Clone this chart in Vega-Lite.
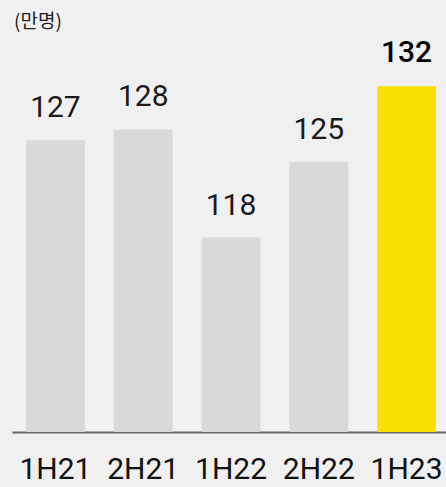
{
  "$schema": "https://vega.github.io/schema/vega-lite/v6.json",
  "width": 438,
  "height": 389,
  "autosize": {"type": "none"},
  "padding": {"left": 12, "top": 43, "right": 0, "bottom": 55},
  "background": "#f0f0f0",
  "config": {"view": {"stroke": null}},
  "title": {
    "text": "(만명)",
    "anchor": "start",
    "frame": "group",
    "font": "Noto Sans CJK KR",
    "fontSize": 19,
    "fontWeight": "normal",
    "color": "#222222",
    "offset": 6,
    "dx": 2
  },
  "data": {
    "values": [
      {"period": "1H21", "value": 127},
      {"period": "2H21", "value": 128},
      {"period": "1H22", "value": 118},
      {"period": "2H22", "value": 125},
      {"period": "1H23", "value": 132}
    ]
  },
  "encoding": {
    "x": {
      "field": "period",
      "type": "nominal",
      "sort": null,
      "scale": {"paddingInner": 0.33, "paddingOuter": 0.16},
      "axis": {
        "title": null,
        "ticks": false,
        "tickSize": 0,
        "labelAngle": 0,
        "labelFont": "Roboto",
        "labelFontSize": 30,
        "labelColor": "#111111",
        "labelBaseline": "alphabetic",
        "labelPadding": 46,
        "domainColor": "#666666",
        "domainWidth": 2,
        "grid": false
      }
    },
    "y": {
      "field": "value",
      "type": "quantitative",
      "scale": {"domain": [100, 136], "zero": false, "nice": false},
      "axis": null
    }
  },
  "layer": [
    {
      "mark": {"type": "bar"},
      "encoding": {
        "y2": {"datum": 100},
        "color": {
          "condition": {"test": "datum.period === '1H23'", "value": "#fae100"},
          "value": "#d9d9d9"
        }
      }
    },
    {
      "transform": [{"filter": "datum.period !== '1H23'"}],
      "mark": {"type": "text", "baseline": "alphabetic", "dy": -23, "font": "Roboto", "fontSize": 30, "color": "#1a1a1a"},
      "encoding": {"text": {"field": "value", "type": "quantitative"}}
    },
    {
      "transform": [{"filter": "datum.period === '1H23'"}],
      "mark": {"type": "text", "baseline": "alphabetic", "dy": -24, "font": "Roboto", "fontSize": 30, "fontWeight": 500, "color": "#000000"},
      "encoding": {"text": {"field": "value", "type": "quantitative"}}
    }
  ]
}
